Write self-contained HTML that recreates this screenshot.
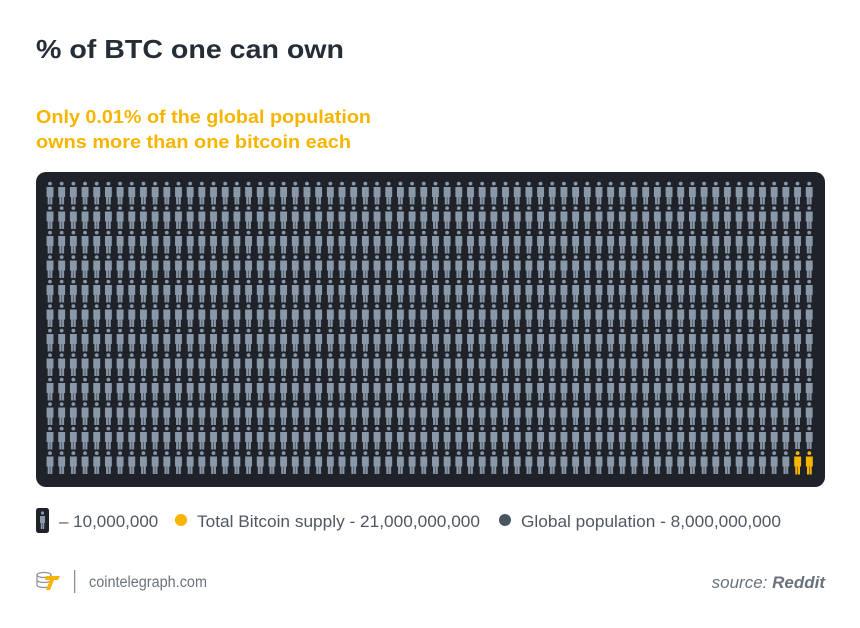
<!DOCTYPE html>
<html><head><meta charset="utf-8"><style>
html,body{margin:0;padding:0;background:#fff;}
svg{display:block;}
</style></head><body>
<svg width="860" height="628" viewBox="0 0 860 628" xmlns="http://www.w3.org/2000/svg" font-family="Liberation Sans, sans-serif">
<defs>
<pattern id="p" patternUnits="userSpaceOnUse" x="44.16" y="180" width="11.68" height="24.5">
<circle cx="5.84" cy="3.6" r="1.9" fill="#8a99aa"/>
<rect x="2.4" y="7" width="6.9" height="10" fill="#8a99aa"/>
<rect x="3.5" y="16" width="2.1" height="9" fill="#8a99aa"/>
<rect x="6.1" y="16" width="2.1" height="9" fill="#8a99aa"/>
</pattern>
<g id="y">
<circle cx="5.84" cy="3.6" r="1.9" fill="#f7b500"/>
<rect x="2.4" y="7" width="6.9" height="10" fill="#f7b500"/>
<rect x="3.5" y="16" width="2.1" height="9" fill="#f7b500"/>
<rect x="6.1" y="16" width="2.1" height="9" fill="#f7b500"/>
</g>
</defs>
<text x="36" y="58" font-size="26" font-weight="bold" fill="#252d36" textLength="308" lengthAdjust="spacingAndGlyphs">% of BTC one can own</text>
<text x="36" y="123" font-size="18.5" font-weight="bold" fill="#f7b500" textLength="335" lengthAdjust="spacingAndGlyphs">Only 0.01% of the global population</text>
<text x="36" y="148" font-size="18.5" font-weight="bold" fill="#f7b500" textLength="315" lengthAdjust="spacingAndGlyphs">owns more than one bitcoin each</text>
<rect x="36" y="172" width="789" height="315" rx="10" fill="#1f2229"/>
<rect x="44.16" y="180" width="770.9" height="294" fill="url(#p)"/>
<rect x="791.8" y="449" width="23.4" height="26" fill="#1f2229"/>
<use href="#y" x="791.8" y="449.5"/>
<use href="#y" x="803.5" y="449.5"/>
<rect x="36" y="508" width="13" height="25" rx="2.5" fill="#1f2229"/>
<circle cx="42.5" cy="513" r="1.6" fill="#8a99aa"/>
<rect x="40" y="516" width="5" height="7" fill="#8a99aa"/>
<rect x="40.8" y="522" width="1.5" height="7" fill="#8a99aa"/>
<rect x="42.7" y="522" width="1.5" height="7" fill="#8a99aa"/>
<text x="59" y="527" font-size="17" fill="#4f5862">– 10,000,000</text>
<circle cx="181" cy="520" r="6" fill="#f7b500"/>
<text x="197" y="527" font-size="17" fill="#4f5862" textLength="283" lengthAdjust="spacingAndGlyphs">Total Bitcoin supply - 21,000,000,000</text>
<circle cx="505" cy="520" r="6" fill="#4a5560"/>
<text x="521" y="527" font-size="17" fill="#4f5862" textLength="260" lengthAdjust="spacingAndGlyphs">Global population - 8,000,000,000</text>
<g fill="none" stroke="#8a8f96" stroke-width="1.2">
<ellipse cx="44" cy="575" rx="7" ry="2.5"/>
<path d="M37 575v10c0 1.5 3 2.5 7 2.5s7-1 7-2.5v-10M37 580c0 1.5 3 2.5 7 2.5s7-1 7-2.5"/>
</g>
<path d="M46 576h14l-2 4h-4l-4 10h-4l4-10h-5z" fill="#f7b500"/>
<rect x="74" y="570" width="1.3" height="23" fill="#8a8f96"/>
<text x="89" y="587" font-size="15.5" fill="#6a727b" textLength="118" lengthAdjust="spacingAndGlyphs">cointelegraph.com</text>
<text x="825" y="588" font-size="17" fill="#6a727b" text-anchor="end"><tspan font-style="italic">source: </tspan><tspan font-weight="bold" font-style="italic">Reddit</tspan></text>
</svg>
</body></html>
